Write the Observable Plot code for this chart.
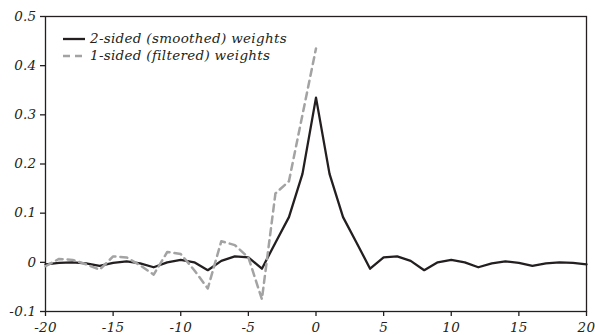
<!DOCTYPE html>
<html>
<head>
<meta charset="utf-8">
<script src="https://cdn.jsdelivr.net/npm/d3@7"></script>
<script src="https://cdn.jsdelivr.net/npm/@observablehq/plot@0.6"></script>
<style>
  html, body { margin: 0; padding: 0; background: #fff; }
  #wrap { position: relative; width: 595px; height: 335px; }
  #legend { position: absolute; left: 63px; top: 30px; font-family: "DejaVu Serif", serif; font-style: italic; font-size: 13.5px; letter-spacing: 0.3px; color: #231f20; line-height: 17.4px; white-space: nowrap; }
  #legend div { display: flex; align-items: center; height: 17.4px; }
  #legend svg { margin-right: 5px; }
  #wrap svg text { font-family: "DejaVu Serif", serif; font-style: italic; font-size: 13.5px; letter-spacing: 0.3px; fill: #231f20; }
</style>
</head>
<body>
<div id="wrap"></div>
<script>
// Lags (x categories)
const lagsTwo = [-20,-19,-18,-17,-16,-15,-14,-13,-12,-11,-10,-9,-8,-7,-6,-5,-4,-3,-2,-1,0,1,2,3,4,5,6,7,8,9,10,11,12,13,14,15,16,17,18,19,20];
const twoSided = [-0.004,-0.001,0.000,-0.002,-0.007,-0.001,0.002,-0.002,-0.010,0.000,0.005,0.000,-0.016,0.003,0.012,0.010,-0.013,0.040,0.092,0.180,0.335,0.180,0.092,0.040,-0.013,0.010,0.012,0.003,-0.016,0.000,0.005,0.000,-0.010,-0.002,0.002,-0.001,-0.007,-0.002,0.000,-0.001,-0.004];
const lagsOne = [-20,-19,-18,-17,-16,-15,-14,-13,-12,-11,-10,-9,-8,-7,-6,-5,-4,-3,-2,-1,0];
const oneSided = [-0.008,0.007,0.005,-0.004,-0.015,0.012,0.010,-0.006,-0.025,0.021,0.017,-0.016,-0.053,0.043,0.035,0.010,-0.075,0.140,0.165,0.300,0.435];
const seriesNames = ["2-sided (smoothed) weights", "1-sided (filtered) weights"];
const xTicks = [-20,-15,-10,-5,0,5,10,15,20];
const yTicks = [-0.1,0,0.1,0.2,0.3,0.4,0.5];

const dTwo = lagsTwo.map((x, i) => ({x, y: twoSided[i]}));
const dOne = lagsOne.map((x, i) => ({x, y: oneSided[i]}));

const ink = "#231f20";
const gray = "#a3a3a3";

const chart = Plot.plot({
  width: 595,
  height: 335,
  marginLeft: 45,
  marginRight: 9,
  marginTop: 16,
  marginBottom: 24,
  x: {domain: [-20, 20]},
  y: {domain: [-0.1, 0.5]},
  style: {fontFamily: "'DejaVu Serif', serif", fontStyle: "italic", fontSize: "13.5px", color: ink, background: "white", overflow: "visible"},
  marks: [
    Plot.axisX({ticks: xTicks, tickSize: 5, tickPadding: 6, tickFormat: d => String(d), label: null, stroke: ink, strokeWidth: 1.3}),
    Plot.axisY({ticks: yTicks, tickSize: 5, tickPadding: 4, tickFormat: d => d === 0 ? "0" : d.toFixed(1), label: null, stroke: ink, strokeWidth: 1.3}),
    Plot.frame({stroke: ink, strokeWidth: 1.3}),
    Plot.line(dTwo, {x: "x", y: "y", stroke: ink, strokeWidth: 2.3}),
    Plot.line(dOne, {x: "x", y: "y", stroke: gray, strokeWidth: 2.5, strokeDasharray: "7,5"})
  ]
});

const wrap = document.getElementById("wrap");
wrap.appendChild(chart);

const legend = document.createElement("div");
legend.id = "legend";
legend.innerHTML = `
  <div><svg width="22" height="6"><line x1="0" x2="22" y1="3" y2="3" stroke="${ink}" stroke-width="2.3"/></svg><span>${seriesNames[0]}</span></div>
  <div><svg width="22" height="6"><line x1="0" x2="22" y1="3" y2="3" stroke="${gray}" stroke-width="2.5" stroke-dasharray="7,5"/></svg><span>${seriesNames[1]}</span></div>`;
wrap.appendChild(legend);
</script>
</body>
</html>
